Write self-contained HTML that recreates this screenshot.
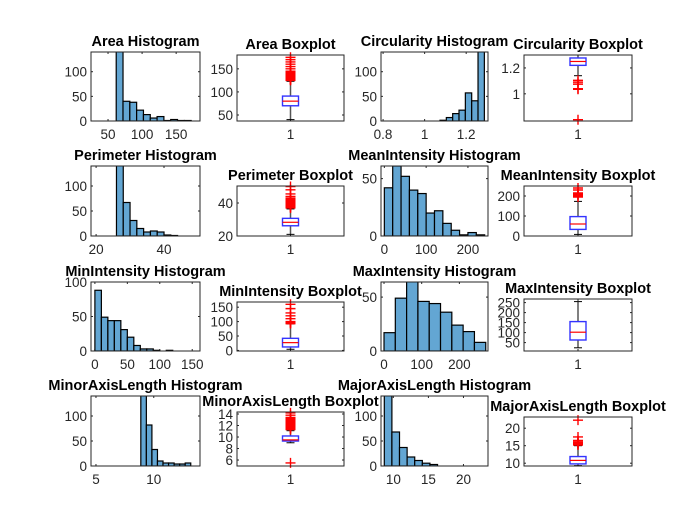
<!DOCTYPE html>
<html><head><meta charset="utf-8"><style>
body{margin:0;background:#fff}
svg text{font-family:"Liberation Sans",Arial,sans-serif}
</style></head><body>
<svg id="fig" width="700" height="525" viewBox="0 0 700 525" xmlns="http://www.w3.org/2000/svg">
<rect width="700" height="525" fill="#fff"/>
</svg>
<script>
// ---------- Histogram data ----------
const areaCounts=[200,40,38,22,13,6,9,1,3,1,1];
const areaBin=[62,10];
const perimCounts=[200,67,31,15,8,10,8,2,1];
const perimBin=[26,2];
const circCounts=[1.5,7,15,22,57,41,200];
const circBin=[1.074,0.0305];
const meanCounts=[42,61,52,40,37,20,22,11,5,1,3,1];
const meanBin=[0,20];
const minCounts=[88,49,44,44,31,20,8,3,3,1,0,1];
const minBin=[0,10];
const maxCounts=[17,49,70,46,44,36,24,18,8];
const maxBin=[0,30];
const minorCounts=[170,82,33,10,6,6,4,4,6];
const minorBin=[8.88,0.48];
const majorCounts=[170,68,37,18,11,5.6,3];
const majorBin=[8.71,1.085];
// ---------- Box plot data: [lowerWhisker, q1, median, q3, upperWhisker] ----------
const areaStats=[40,70,80,91,123];
const areaOut=[125,126,127,128,129,130,131,132,133,134,135,136,137,138,139,140,141,142,143,144,145,150,155,160,165,170,175];
const circStats=[1.14,1.22,1.25,1.277,1.30];
const circOut=[1.104,1.09,1.075,1.04,1.035,0.80];
const perimStats=[21,26.2,28.3,30.7,36.4];
const perimOut=[37,37.5,38,38.5,39,39.5,40,40.5,41,41.5,42,42.5,43,44,45.5,48,50];
const meanStats=[8,33,60,97,173];
const meanOut=[195,200,205,210,215,230,240];
const minStats=[4,12,27,42,92];
const minOut=[93,95,97,99,100,110,120,130,145,160];
const maxStats=[24,63,102,155,255];
const maxOut=[];
const minorStats=[9.0,9.3,9.5,10.18,11.1];
const minorOut=[11.3,11.45,11.6,11.75,11.9,12.05,12.2,12.35,12.5,12.65,12.8,12.95,13.1,13.25,13.4,13.8,14.2,5.5];
const majorStats=[9.3,9.8,10.8,11.9,15];
const majorOut=[15.2,15.4,15.6,15.8,16.1,16.5,17.5,22.3];

const svg=document.getElementById('fig');
const NS='http://www.w3.org/2000/svg';
function mk(tag,attrs,parent,txt){const e=document.createElementNS(NS,tag);for(const k in attrs)e.setAttribute(k,attrs[k]);if(txt!==undefined)e.textContent=txt;(parent||svg).appendChild(e);return e;}
let clipId=0;
function axesFrame(g,L,xlim,ylim,xticks,xlabels,yticks,title,name){
  const sx=v=>L.x0+(v-xlim[0])/(xlim[1]-xlim[0])*(L.x1-L.x0);
  const sy=v=>L.y1-(v-ylim[0])/(ylim[1]-ylim[0])*(L.y1-L.y0);
  const t=mk('text',{x:(L.x0+L.x1)/2,y:L.y0-6,'text-anchor':'middle','font-size':'14.5','font-weight':'bold',fill:'#000'},g,title);
  
  
  xticks.forEach((v,i)=>{const x=sx(v);
    mk('line',{x1:x,x2:x,y1:L.y1,y2:L.y1-2,stroke:'#262626'},g);
    mk('line',{x1:x,x2:x,y1:L.y0,y2:L.y0+2,stroke:'#262626'},g);
    const tl=mk('text',{x:x,y:L.y1+18,'text-anchor':'middle','font-size':'13.5',fill:'#262626'},g,xlabels[i]);
    
    });
  yticks.forEach(v=>{const y=sy(v);
    mk('line',{x1:L.x0,x2:L.x0+2,y1:y,y2:y,stroke:'#262626'},g);
    mk('line',{x1:L.x1,x2:L.x1-2,y1:y,y2:y,stroke:'#262626'},g);
    const tl=mk('text',{x:L.x0-4,y:y+5,'text-anchor':'end','font-size':'13.5',fill:'#262626'},g,String(v));
    
    });
  return {sx,sy};
}
function hist(L,counts,bin,xlim,ylim,xticks,yticks,title,name){
  const g=mk('g',{});
  
  
  const id='c'+(clipId++);
  const cp=mk('clipPath',{id:id},g);mk('rect',{x:L.x0,y:L.y0,width:L.x1-L.x0,height:L.y1-L.y0},cp);
  const {sx,sy}=axesFrame(g,L,xlim,ylim,xticks,xticks.map(String),yticks,title,name);
  const bg=mk('g',{'clip-path':'url(#'+id+')'},g);
  counts.forEach((c,i)=>{const a=bin[0]+i*bin[1],b=a+bin[1];
    const y=sy(c);
    const r=mk('rect',{x:sx(a),y:y,width:sx(b)-sx(a),height:L.y1-y,fill:'#63a6d3',stroke:'#000','stroke-width':'1.2'},bg);
    
    });
  const f=mk('rect',{x:L.x0,y:L.y0,width:L.x1-L.x0,height:L.y1-L.y0,fill:'none',stroke:'#262626','stroke-width':'1'},g);
  
  
}
function box(L,stats,out,ylim,yticks,title,name){
  const g=mk('g',{});
  
  
  const {sx,sy}=axesFrame(g,L,[0.5,1.5],ylim,[1],['1'],yticks,title,name);
  const cx=sx(1),hw=8,cw=4;
  mk('line',{x1:cx,x2:cx,y1:sy(stats[0]),y2:sy(stats[1]),stroke:'#555','stroke-width':'1.5'},g);
  mk('line',{x1:cx,x2:cx,y1:sy(stats[3]),y2:sy(stats[4]),stroke:'#555','stroke-width':'1.5'},g);
  mk('line',{x1:cx-cw,x2:cx+cw,y1:sy(stats[0]),y2:sy(stats[0]),stroke:'#000'},g);
  mk('line',{x1:cx-cw,x2:cx+cw,y1:sy(stats[4]),y2:sy(stats[4]),stroke:'#000'},g);
  const b=mk('rect',{x:cx-hw,y:sy(stats[3]),width:2*hw,height:sy(stats[1])-sy(stats[3]),fill:'none',stroke:'#3333ff','stroke-width':'1.4'},g);
  
  
  const m=mk('line',{x1:cx-hw,x2:cx+hw,y1:sy(stats[2]),y2:sy(stats[2]),stroke:'#ff0000','stroke-width':'1.2'},g);
  
  
  out.forEach(v=>{const y=sy(v);
    const p=mk('path',{d:`M${cx-5},${y}H${cx+5}M${cx},${y-5}V${y+5}`,stroke:'#ff0000','stroke-width':'1.4',fill:'none'},g);
    
    });
  const f=mk('rect',{x:L.x0,y:L.y0,width:L.x1-L.x0,height:L.y1-L.y0,fill:'none',stroke:'#262626','stroke-width':'1'},g);
  
  
}
const C1=[91,200],C2=[237,344],C3=[381,488],C4=[524,632];
const A=(c,y0,y1)=>({x0:c[0],x1:c[1],y0:y0,y1:y1});
hist(A(C1,52,121),areaCounts,areaBin,[25,185],[0,140],[50,100,150],[0,50,100],'Area Histogram','area-histogram');
box(A(C2,55,121),areaStats,areaOut,[37,180],[50,100,150],'Area Boxplot','area-boxplot');
hist(A(C3,52,121),circCounts,circBin,[0.79,1.305],[0,140],[0.8,1,1.2],[0,50,100],'Circularity Histogram','circularity-histogram');
box(A(C4,55,121),circStats,circOut,[0.79,1.30],[1,1.2],'Circularity Boxplot','circularity-boxplot');
hist(A(C1,166,236),perimCounts,perimBin,[18.5,50.6],[0,140],[20,40],[0,50,100],'Perimeter Histogram','perimeter-histogram');
box(A(C2,186,236),perimStats,perimOut,[20,50.3],[20,40],'Perimeter Boxplot','perimeter-boxplot');
hist(A(C3,166,236),meanCounts,meanBin,[-8,248],[0,61],[0,100,200],[0,50],'MeanIntensity Histogram','meanintensity-histogram');
box(A(C4,186,236),meanStats,meanOut,[0,250],[0,100,200],'MeanIntensity Boxplot','meanintensity-boxplot');
hist(A(C1,282,351),minCounts,minBin,[-6,162],[0,100],[0,50,100,150],[0,50,100],'MinIntensity Histogram','minintensity-histogram');
box(A(C2,302,351),minStats,minOut,[-2,168],[0,50,100,150],'MinIntensity Boxplot','minintensity-boxplot');
hist(A(C3,282,351),maxCounts,maxBin,[-8,276],[0,64],[0,100,200],[0,50],'MaxIntensity Histogram','maxintensity-histogram');
box(A(C4,299,351),maxStats,maxOut,[8,268],[50,100,150,200,250],'MaxIntensity Boxplot','maxintensity-boxplot');
hist(A(C1,396,466),minorCounts,minorBin,[4.57,14.0],[0,140],[5,10],[0,50,100],'MinorAxisLength Histogram','minoraxislength-histogram');
box(A(C2,412,466),minorStats,minorOut,[4.96,14.35],[6,8,10,12,14],'MinorAxisLength Boxplot','minoraxislength-boxplot');
hist(A(C3,396,466),majorCounts,majorBin,[8.24,23.5],[0,140],[10,15,20],[0,50,100],'MajorAxisLength Histogram','majoraxislength-histogram');
box(A(C4,417,466),majorStats,majorOut,[9.2,23.2],[10,15,20],'MajorAxisLength Boxplot','majoraxislength-boxplot');
</script>
</body></html>
